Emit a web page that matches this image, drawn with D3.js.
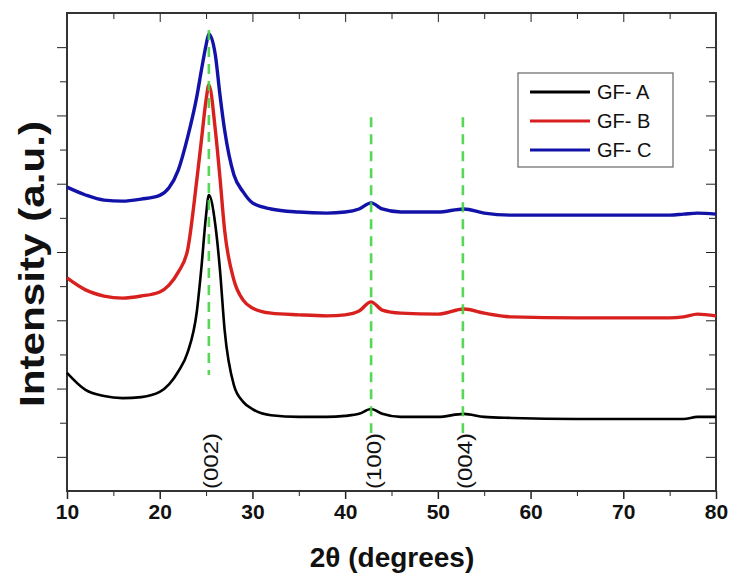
<!DOCTYPE html>
<html>
<head>
<meta charset="utf-8">
<script src="https://cdn.jsdelivr.net/npm/d3@7"></script>
<style>
  body { margin: 0; background: #fff; }
  svg text { font-family: "Liberation Sans", Arial, sans-serif; fill: #111; }
  .axis path, .axis line { stroke: #222; }
</style>
</head>
<body>
<svg id="xrd" width="732" height="577"></svg>
<script>
"use strict";

// 2-theta grid shared by all three patterns
const twoTheta = [10, 12, 14, 16, 18, 20, 21, 22, 23, 24, 24.5, 25, 25.3, 26, 26.5, 27, 28, 29, 30,
  32, 35, 38, 40, 41.5, 42.8, 44, 46, 50, 52.8, 55, 58, 65, 72, 75, 76.5, 78, 80];

// intensities (arbitrary units, offset stacked as in the figure)
const gfA = [3.46, 2.96, 2.78, 2.72, 2.75, 2.90, 3.12, 3.50, 4.05, 5.25, 6.55, 8.08, 8.67, 7.79, 6.47, 4.72, 3.10, 2.61, 2.40,
  2.22, 2.17, 2.17, 2.20, 2.26, 2.40, 2.26, 2.17, 2.17, 2.26, 2.17, 2.14, 2.11, 2.11, 2.11, 2.11, 2.17, 2.17];
const gfB = [6.24, 5.89, 5.71, 5.65, 5.71, 5.83, 6.03, 6.41, 7.05, 9.11, 10.28, 11.45, 11.89, 10.57, 9.17, 7.64, 6.18, 5.59, 5.36,
  5.21, 5.16, 5.13, 5.16, 5.27, 5.54, 5.30, 5.21, 5.18, 5.33, 5.21, 5.10, 5.07, 5.07, 5.07, 5.10, 5.18, 5.13];
const gfC = [8.90, 8.67, 8.52, 8.49, 8.55, 8.66, 8.88, 9.40, 10.35, 11.55, 12.33, 13.06, 13.39, 12.77, 11.60, 10.57, 9.26, 8.76, 8.44,
  8.26, 8.17, 8.14, 8.17, 8.26, 8.44, 8.26, 8.17, 8.17, 8.26, 8.14, 8.08, 8.08, 8.08, 8.08, 8.11, 8.14, 8.11];

const seriesNames = ["GF- A", "GF- B", "GF- C"];
const seriesColors = ["#000000", "#d8201e", "#1212a8"];

// reflection markers
const peakPos = [25.3, 42.8, 52.7];
const peakTop = [13.5, 10.95, 10.95];
const peakBottom = [3.4, 1.7, 1.7];
const peakLabels = ["(002)", "(100)", "(004)"];

const xTicks = [10, 20, 30, 40, 50, 60, 70, 80];

let svg = d3.select("svg#xrd");
let plot = {left: 67, right: 716, top: 13, bottom: 491};

let xScale = d3.scaleLinear().domain([10, 80]).range([plot.left, plot.right]);
let yScale = d3.scaleLinear().domain([0, 14]).range([plot.bottom, plot.top]);

/* frame ticks */
let minorX = d3.range(15, 80, 10);
let minorY = d3.range(1, 14, 2);
let majorY = d3.range(2, 14, 2);

// bottom
svg.append("g").attr("class", "axis")
  .attr("transform", `translate(0, ${plot.bottom})`)
  .call(d3.axisBottom(xScale).tickValues(xTicks).tickSize(8).tickSizeOuter(0).tickPadding(5)
    .tickFormat(d3.format("d")))
  .call(g => g.selectAll("text").style("font-size", "21px").style("font-weight", "bold"))
  .call(g => g.selectAll("line").attr("stroke-width", 1.5));
svg.append("g").attr("class", "axis")
  .attr("transform", `translate(0, ${plot.bottom})`)
  .call(d3.axisBottom(xScale).tickValues(minorX).tickSize(5).tickFormat(""))
  .call(g => g.select(".domain").remove());

// top
svg.append("g").attr("class", "axis")
  .attr("transform", `translate(0, ${plot.top})`)
  .call(d3.axisBottom(xScale).tickValues(xTicks).tickSize(9).tickFormat(""))
  .call(g => g.select(".domain").remove());
svg.append("g").attr("class", "axis")
  .attr("transform", `translate(0, ${plot.top})`)
  .call(d3.axisBottom(xScale).tickValues(minorX).tickSize(6).tickFormat(""))
  .call(g => g.select(".domain").remove());

// left (outward)
svg.append("g").attr("class", "axis")
  .attr("transform", `translate(${plot.left}, 0)`)
  .call(d3.axisLeft(yScale).tickValues(minorY).tickSize(10).tickFormat(""))
  .call(g => g.select(".domain").remove());
svg.append("g").attr("class", "axis")
  .attr("transform", `translate(${plot.left}, 0)`)
  .call(d3.axisLeft(yScale).tickValues(majorY).tickSize(7).tickFormat(""))
  .call(g => g.select(".domain").remove());

// right (inward)
svg.append("g").attr("class", "axis")
  .attr("transform", `translate(${plot.right}, 0)`)
  .call(d3.axisLeft(yScale).tickValues(minorY).tickSize(10).tickFormat(""))
  .call(g => g.select(".domain").remove());
svg.append("g").attr("class", "axis")
  .attr("transform", `translate(${plot.right}, 0)`)
  .call(d3.axisLeft(yScale).tickValues(majorY).tickSize(7).tickFormat(""))
  .call(g => g.select(".domain").remove());

svg.append("rect")
  .attr("x", plot.left).attr("y", plot.top)
  .attr("width", plot.right - plot.left).attr("height", plot.bottom - plot.top)
  .attr("fill", "none").attr("stroke", "#333").attr("stroke-width", 2);

/* curves */
let drawLine = d3.line()
  .x(d => xScale(d[0]))
  .y(d => yScale(d[1]))
  .curve(d3.curveMonotoneX);

[gfA, gfB, gfC].forEach((vals, i) => {
  svg.append("path")
    .datum(twoTheta.map((t, k) => [t, vals[k]]))
    .attr("d", drawLine)
    .attr("fill", "none")
    .attr("stroke", seriesColors[i])
    .attr("stroke-width", i == 0 ? 2.6 : 3.4)
    .attr("stroke-linejoin", "round");
});

/* reflection markers */
peakPos.forEach((p, i) => {
  svg.append("line")
    .attr("x1", xScale(p)).attr("x2", xScale(p))
    .attr("y1", yScale(peakTop[i])).attr("y2", yScale(peakBottom[i]))
    .attr("stroke", "#44d444")
    .attr("stroke-width", 2.6)
    .attr("stroke-dasharray", "10,7")
    .attr("opacity", 0.9);

  svg.append("text")
    .attr("transform", `translate(${xScale(p) + 2}, ${plot.bottom - 2}) rotate(-90)`)
    .attr("dominant-baseline", "central")
    .attr("text-anchor", "start")
    .style("font-size", "21px")
    .attr("textLength", 56)
    .attr("lengthAdjust", "spacingAndGlyphs")
    .text(peakLabels[i]);
});

/* legend */
let legend = svg.append("g");
legend.append("rect")
  .attr("x", 518).attr("y", 73).attr("width", 155).attr("height", 94)
  .attr("fill", "#fff").attr("stroke", "#666").attr("stroke-width", 1.2);
seriesNames.forEach((name, i) => {
  let y = 92 + i * 29;
  legend.append("line")
    .attr("x1", 530).attr("x2", 590).attr("y1", y).attr("y2", y)
    .attr("stroke", seriesColors[i]).attr("stroke-width", 3);
  legend.append("text")
    .attr("x", 597).attr("y", y)
    .attr("dominant-baseline", "central")
    .style("font-size", "20px")
    .text(name);
});

/* axis titles */
svg.append("text")
  .attr("text-anchor", "middle")
  .attr("x", 392).attr("y", 567)
  .style("font-size", "28px").style("font-weight", "bold")
  .text("2θ (degrees)");

svg.append("text")
  .attr("text-anchor", "middle")
  .attr("transform", "translate(44, 264) rotate(-90)")
  .style("font-size", "35px").style("font-weight", "bold")
  .attr("textLength", 286)
  .attr("lengthAdjust", "spacingAndGlyphs")
  .text("Intensity (a.u.)");
</script>
</body>
</html>
